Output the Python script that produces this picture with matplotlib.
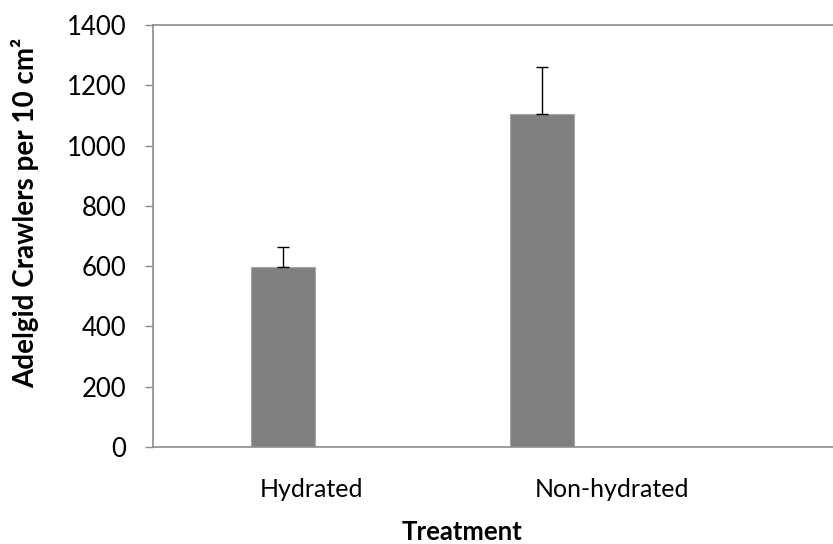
import matplotlib.pyplot as plt
import numpy as np

plt.rcParams['font.family'] = ['Lato', 'DejaVu Sans']

# data
treatments = ['Hydrated', 'Non-hydrated']
crawlers = [596, 1104]
errors = [67, 158]

yticks = [0, 200, 400, 600, 800, 1000, 1200, 1400]

fig = plt.figure(figsize=(8.33, 5.44), dpi=100)
ax = fig.add_axes([0.1833, 0.1783, 0.8167, 0.7757])

x = np.arange(len(treatments))
ax.bar(x, crawlers, width=0.248, color='#808080', edgecolor='#a6a6a6', linewidth=0.8, zorder=2)
ax.errorbar(x, crawlers, yerr=[np.zeros(len(errors)), errors], fmt='none',
            ecolor='black', elinewidth=1, capsize=4.5, capthick=1, zorder=3)

ax.set_xlim(-0.503, 2.124)
ax.set_ylim(0, 1400)
ax.set_yticks(yticks)

# category labels sit right of the bars, as in the original
ax.set_xticks([0.112, 1.27])
ax.set_xticklabels(treatments)
ax.tick_params(axis='x', length=0, labelsize=18, pad=22)
ax.tick_params(axis='y', length=6, width=1, color='#8c8c8c', labelsize=18.5, pad=13)

for s in ['left', 'bottom', 'top']:
    ax.spines[s].set_color('#8c8c8c')
    ax.spines[s].set_linewidth(1.2)
ax.spines['right'].set_visible(False)

ax.set_ylabel('Adelgid Crawlers per 10 cm²', fontsize=20, fontweight='bold')
ax.yaxis.set_label_coords(-0.167, 0.556)
ax.set_xlabel('Treatment', fontsize=18.5, fontweight='bold')
ax.xaxis.set_label_coords(0.4547, -0.172)

fig.savefig('out.png', dpi=100)
